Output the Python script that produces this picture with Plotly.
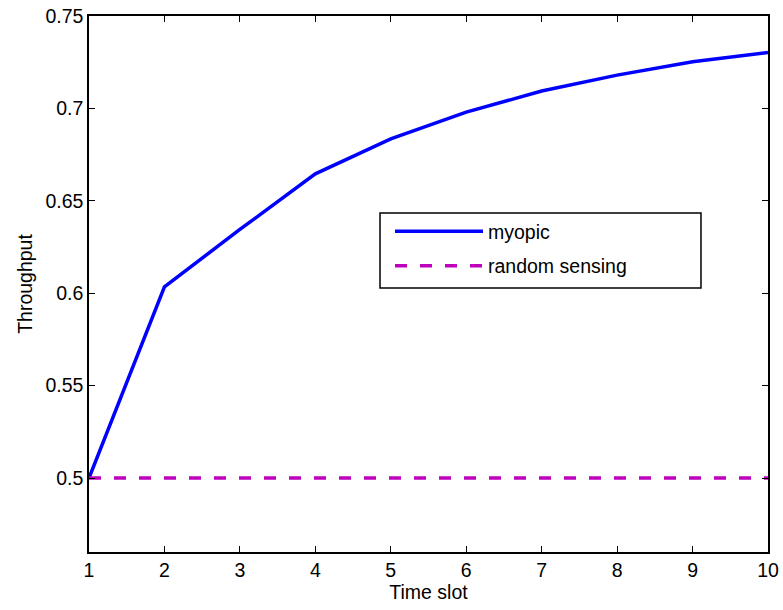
import plotly.graph_objects as go

time_slot = [1, 2, 3, 4, 5, 6, 7, 8, 9, 10]
myopic = [0.5, 0.6035, 0.6345, 0.6646, 0.6835, 0.698, 0.7094, 0.718, 0.7252, 0.7303]
random_sensing = [0.5] * 10
x_ticks = [1, 2, 3, 4, 5, 6, 7, 8, 9, 10]
y_ticks = [0.5, 0.55, 0.6, 0.65, 0.7, 0.75]
y_tick_labels = ["0.5", "0.55", "0.6", "0.65", "0.7", "0.75"]

FONT = "Liberation Sans, Arial, Helvetica"
FS = 19.5

fig = go.Figure()
fig.add_trace(go.Scatter(x=time_slot, y=myopic, mode="lines", name="myopic",
                         legendgroup="a",
                         line=dict(color="#0000ff", width=3.5)))
fig.add_trace(go.Scatter(x=time_slot, y=random_sensing, mode="lines", name="random sensing",
                         legendgroup="b",
                         line=dict(color="#bf00bf", width=3.5, dash="12px,13px")))

axis_common = dict(showgrid=False, zeroline=False, showline=True, linecolor="black",
                   linewidth=1.5, mirror="ticks", ticks="inside", ticklen=6,
                   tickcolor="black", tickwidth=1, automargin=False,
                   ticklabeloverflow="allow",
                   tickfont=dict(family=FONT, size=FS, color="black"))

# legend frame (MATLAB-style box with extra padding)
fig.add_shape(type="rect", xref="paper", yref="paper",
              x0=0.4286, x1=0.9013, y0=0.4925, y1=0.6325,
              line=dict(color="black", width=1.5), fillcolor="white", layer="above")

fig.update_layout(
    width=783, height=610,
    margin=dict(l=89, r=15, t=16, b=58),
    paper_bgcolor="white", plot_bgcolor="white",
    font=dict(family=FONT, size=FS, color="black"),
    xaxis=dict(range=[1, 10], tickvals=x_ticks,
               title=dict(text="Time slot", standoff=0,
                          font=dict(family=FONT, size=FS)),
               **axis_common),
    yaxis=dict(range=[0.46, 0.75], tickvals=y_ticks, ticktext=y_tick_labels,
               title=dict(text="Throughput", standoff=8,
                          font=dict(family=FONT, size=FS)),
               **axis_common),
    legend=dict(x=0.4433, y=0.634, xanchor="left", yanchor="top",
                bgcolor="rgba(0,0,0,0)", borderwidth=0,
                font=dict(family=FONT, size=FS, color="black"),
                itemwidth=88, tracegroupgap=6, traceorder="grouped"),
    showlegend=True,
)

fig.write_html("out.html",
               config={"displayModeBar": False},
               post_script="document.body.style.margin='0';document.body.style.overflow='hidden';")
